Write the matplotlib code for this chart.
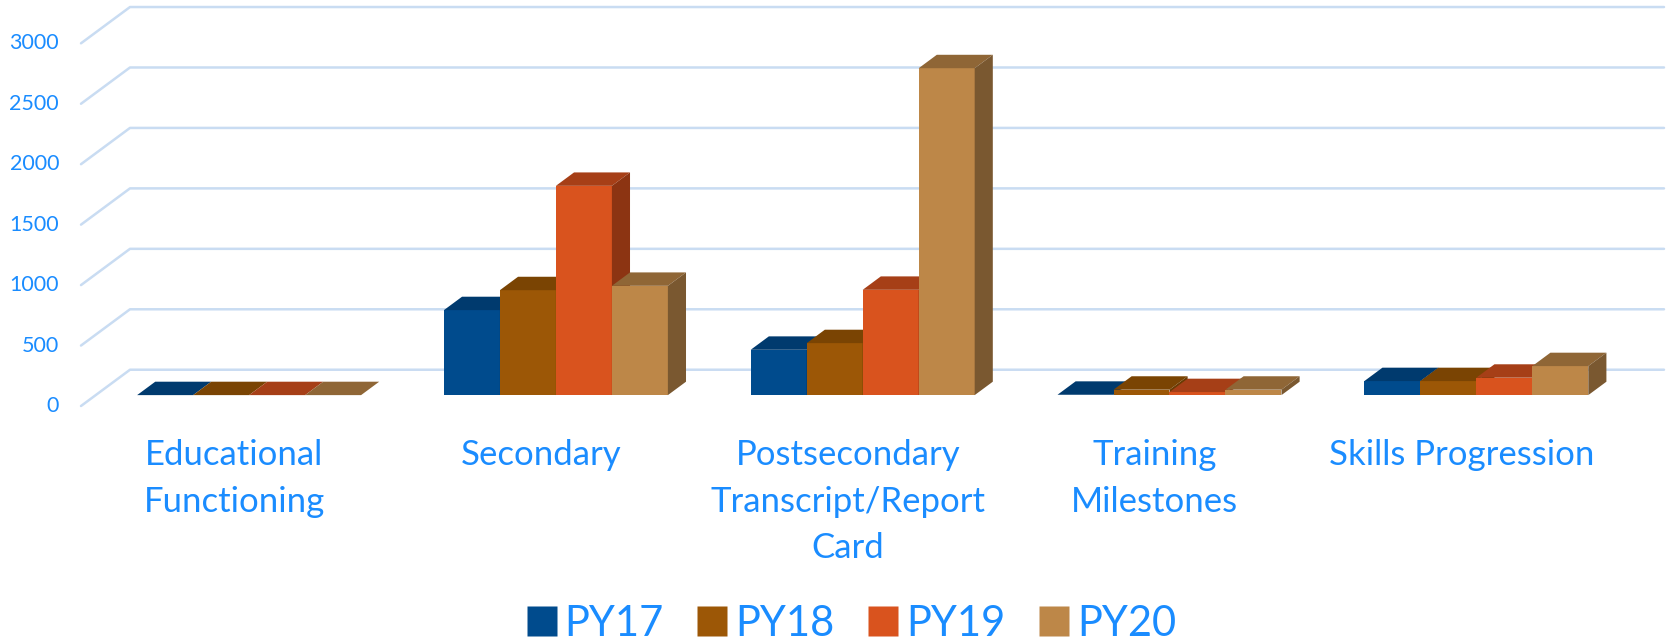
import matplotlib
matplotlib.use("Agg")
import matplotlib.pyplot as plt
from matplotlib.patches import Polygon
from matplotlib.lines import Line2D

categories = ["Educational\nFunctioning", "Secondary", "Postsecondary\nTranscript/Report\nCard",
              "Training\nMilestones", "Skills Progression"]
series = ["PY17", "PY18", "PY19", "PY20"]
py17 = [0, 703, 375, 3, 116]
py18 = [0, 868, 430, 45, 116]
py19 = [0, 1731, 871, 25, 144]
py20 = [0, 904, 2704, 45, 240]
values = [py17, py18, py19, py20]
yticks = [0, 500, 1000, 1500, 2000, 2500, 3000]

front_cols = ["#004b8d", "#9c5706", "#d9531e", "#bd8748"]
top_cols = ["#003a6e", "#7a4403", "#a63f17", "#8f6636"]
side_cols = ["#002f5a", "#6a3b03", "#8c3412", "#7a5830"]
txt_col = "#1a8cff"
grid_col = "#c9dcf2"
FONT = "Lato"

W, H = 1667, 643
fig = plt.figure(figsize=(W / 100, H / 100), dpi=100)
ax = fig.add_axes([81 / W, (H - 406) / H, (1615 - 81) / W, (406 - 43.3) / H])
ax.set_xlim(0, 5)
ax.set_ylim(0, 3000)
ax.axis("off")

DX, DY = 0.1597, 300.0   # full-depth shift in data units
d0, dd = 0.30, 0.37      # bar front depth and bar depth (fractions)
w = 0.1825

# gridlines: front-left diagonal + back wall line
for v in yticks:
    ax.plot([0, DX, 5 + DX], [v, v + DY, v + DY], color=grid_col, lw=1.8,
            clip_on=False, zorder=1, solid_capstyle="round")
    ax.text(-0.0143, v, str(v), transform=ax.get_yaxis_transform(), ha="right",
            va="center", color=txt_col, fontsize=15.5, family=FONT)

ddx, ddy = dd * DX, dd * DY
for i in range(len(categories)):
    for j in range(len(series)):
        val = values[j][i]
        xl = i + 0.5 - 2 * w + j * w + d0 * DX
        yb = d0 * DY
        yt = yb + val
        z = 2 + i * 20 + j * 4
        ax.bar(xl, val, width=w, bottom=yb, align="edge", color=front_cols[j],
               edgecolor="none", zorder=z, clip_on=False)
        ax.add_patch(Polygon([(xl, yt), (xl + w, yt), (xl + w + ddx, yt + ddy), (xl + ddx, yt + ddy)],
                             closed=True, facecolor=top_cols[j], edgecolor="none",
                             zorder=z + 1, clip_on=False))
        ax.add_patch(Polygon([(xl + w, yb), (xl + w + ddx, yb + ddy), (xl + w + ddx, yt + ddy), (xl + w, yt)],
                             closed=True, facecolor=side_cols[j], edgecolor="none",
                             zorder=z + 1, clip_on=False))

# category labels
for i, c in enumerate(categories):
    ax.text(i + 0.5, -0.092, c, transform=ax.get_xaxis_transform(), ha="center", va="top",
            color=txt_col, fontsize=25, family=FONT, linespacing=1.55)

handles = [Line2D([], [], marker="s", linestyle="none", markersize=21,
                  markerfacecolor=front_cols[j], markeredgecolor="none") for j in range(4)]
fig.legend(handles, series, loc="center", bbox_to_anchor=(851 / W, 1 - 624 / H), ncol=4,
           frameon=False, prop={"family": FONT, "size": 30}, labelcolor=txt_col,
           handletextpad=0.17, columnspacing=0.8, handlelength=0.75, borderpad=0.05)

fig.savefig("out.png", dpi=100)
